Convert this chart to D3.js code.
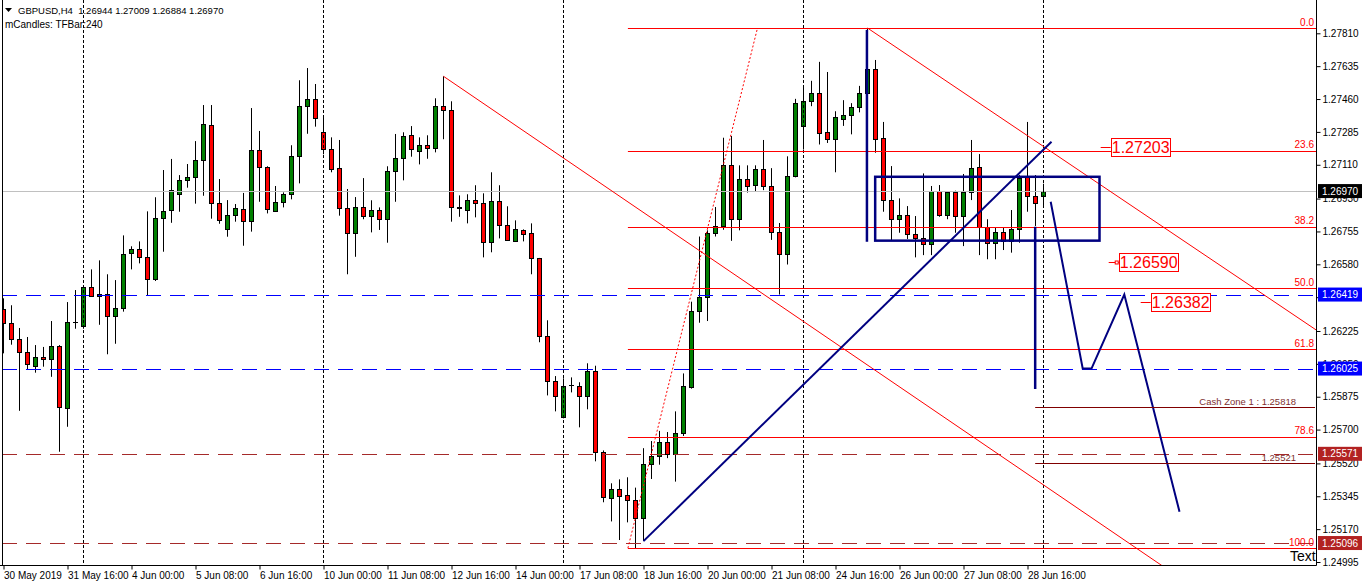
<!DOCTYPE html>
<html><head><meta charset="utf-8">
<script src="https://cdn.jsdelivr.net/npm/d3@7"></script>
<style>
body{margin:0;background:#fff;}
svg{display:block;font-family:"Liberation Sans",Arial,sans-serif;}
</style>
</head><body>
<svg id="c" width="1362" height="585"></svg>
<script>
// ---------------- DATA ----------------
const symbol = "GBPUSD,H4";
const indicatorText = "mCandles: TFBar:240";
const opens = [1.26340,1.26266,1.26181,1.26111,1.26037,1.26085,1.26074,1.26143,1.25813,1.26273,
1.26253,1.26461,1.26410,1.26420,1.26303,1.26346,1.26638,1.26660,1.26617,1.26500,
1.26825,1.26867,1.26953,1.27027,1.27043,1.27134,1.27320,1.26905,1.26766,1.26841,
1.26873,1.26809,1.27187,1.27096,1.26862,1.26910,1.26953,1.27155,1.27421,1.27459,
1.27283,1.27192,1.27091,1.26878,1.26745,1.26883,1.26836,1.26867,1.26820,1.27075,
1.27144,1.27267,1.27182,1.27214,1.27198,1.27421,1.27400,1.26883,1.26867,1.26921,
1.26905,1.26697,1.26915,1.26788,1.26702,1.26761,1.26745,1.26612,1.26197,1.25957,
1.25765,1.25936,1.25930,1.25877,1.26010,1.25579,1.25334,1.25386,1.25350,1.25323,
1.25227,1.25517,1.25558,1.25634,1.25570,1.25684,1.25927,1.26332,1.26404,1.26747,
1.26782,1.27107,1.26822,1.27034,1.27004,1.27087,1.26998,1.26750,1.26633,1.27052,
1.27317,1.27452,1.27492,1.27283,1.27245,1.27355,1.27373,1.27416,1.27490,1.27620,
1.27251,1.26921,1.26820,1.26841,1.26740,1.26722,1.26688,1.26972,1.26841,1.26963,
1.26837,1.26963,1.27096,1.26777,1.26695,1.26750,1.26704,1.26766,1.27043,1.26944,
1.26944];
const highs = [1.26399,1.26362,1.26241,1.26193,1.26150,1.26140,1.26278,1.26150,1.26379,1.26443,
1.26470,1.26553,1.26601,1.26527,1.26496,1.26734,1.26676,1.26702,1.26862,1.26937,
1.27082,1.27141,1.27055,1.27114,1.27236,1.27428,1.27428,1.27034,1.26922,1.26901,
1.26960,1.27412,1.27290,1.27102,1.26997,1.26963,1.27214,1.27560,1.27625,1.27540,
1.27368,1.27256,1.27242,1.26981,1.26938,1.27039,1.26921,1.26883,1.27102,1.27274,
1.27283,1.27316,1.27256,1.27267,1.27464,1.27581,1.27448,1.26947,1.26953,1.27001,
1.26958,1.27070,1.27001,1.26889,1.26814,1.26766,1.26798,1.26614,1.26282,1.25985,
1.25973,1.25978,1.25952,1.26053,1.26040,1.25589,1.25414,1.25435,1.25446,1.25391,
1.25601,1.25639,1.25693,1.25687,1.25797,1.25999,1.26381,1.26728,1.26761,1.26885,
1.27254,1.27263,1.27107,1.27107,1.27107,1.27242,1.27092,1.26800,1.27155,1.27461,
1.27530,1.27557,1.27658,1.27604,1.27395,1.27454,1.27438,1.27530,1.27838,1.27668,
1.27338,1.27103,1.26931,1.26890,1.26837,1.27064,1.26997,1.27002,1.26967,1.26972,
1.27061,1.27242,1.27167,1.26820,1.26777,1.26777,1.26869,1.27055,1.27338,1.27055,
1.27009];
const lows = [1.26106,1.26152,1.25800,1.26021,1.26003,1.26035,1.25981,1.25582,1.25715,1.26237,
1.26237,1.26406,1.26258,1.26101,1.26157,1.26328,1.26553,1.26585,1.26415,1.26491,
1.26647,1.26801,1.26860,1.26988,1.26903,1.26945,1.26823,1.26796,1.26727,1.26807,
1.26679,1.26754,1.26913,1.26851,1.26860,1.26883,1.26926,1.27011,1.27275,1.27313,
1.27166,1.27070,1.26839,1.26527,1.26620,1.26820,1.26750,1.26763,1.26695,1.26913,
1.27027,1.27153,1.27112,1.27142,1.27176,1.27246,1.26807,1.26833,1.26798,1.26830,
1.26617,1.26644,1.26718,1.26705,1.26700,1.26702,1.26527,1.26165,1.25882,1.25797,
1.25760,1.25898,1.25712,1.25808,1.25531,1.25313,1.25211,1.25112,1.25206,1.25069,
1.25106,1.25437,1.25513,1.25548,1.25423,1.25666,1.25918,1.26269,1.26278,1.26728,
1.26764,1.26705,1.26761,1.26962,1.26968,1.26975,1.26710,1.26419,1.26579,1.27043,
1.27191,1.27422,1.27218,1.27226,1.27070,1.27317,1.27272,1.27389,1.27480,1.27174,
1.26860,1.26709,1.26748,1.26715,1.26617,1.26629,1.26629,1.26833,1.26820,1.26748,
1.26677,1.26922,1.26629,1.26607,1.26607,1.26656,1.26642,1.26695,1.26860,1.26784,
1.26884];
const closes = [1.26266,1.26181,1.26111,1.26049,1.26085,1.26074,1.26143,1.25818,1.26274,1.26275,
1.26461,1.26410,1.26420,1.26303,1.26346,1.26633,1.26660,1.26617,1.26500,1.26825,
1.26862,1.26974,1.27027,1.27045,1.27134,1.27325,1.26905,1.26814,1.26841,1.26878,
1.26809,1.27187,1.27096,1.26873,1.26910,1.26953,1.27155,1.27421,1.27459,1.27357,
1.27192,1.27086,1.26878,1.26745,1.26883,1.26837,1.26867,1.26820,1.27075,1.27144,
1.27262,1.27192,1.27214,1.27198,1.27421,1.27400,1.26883,1.26881,1.26921,1.26905,
1.26697,1.26915,1.26788,1.26708,1.26766,1.26740,1.26612,1.26197,1.25957,1.25877,
1.25930,1.25938,1.25877,1.26010,1.25579,1.25339,1.25382,1.25349,1.25323,1.25227,
1.25519,1.25558,1.25634,1.25570,1.25684,1.25930,1.26329,1.26404,1.26747,1.26782,
1.27107,1.26822,1.27034,1.26995,1.27087,1.26998,1.26750,1.26633,1.27052,1.27438,
1.27452,1.27492,1.27277,1.27245,1.27362,1.27373,1.27416,1.27492,1.27620,1.27246,
1.26921,1.26820,1.26841,1.26740,1.26722,1.26688,1.26972,1.26841,1.26963,1.26837,
1.26963,1.27091,1.26777,1.26695,1.26750,1.26704,1.26766,1.27038,1.26944,1.26905,
1.26970];

const priceTicks = [1.27810,1.27635,1.27460,1.27285,1.27110,1.26930,1.26755,1.26580,1.26405,1.26225,1.26050,1.25875,1.25700,1.25520,1.25345,1.25170,1.24995];
const timeTickBars = [0,8,16,24,32,40,48,56,64,72,80,88,96,104,112,120,128];
const timeLabels = ["30 May 2019","31 May 16:00","4 Jun 00:00","5 Jun 08:00","6 Jun 16:00","10 Jun 00:00","11 Jun 08:00","12 Jun 16:00","14 Jun 00:00","17 Jun 08:00","18 Jun 16:00","20 Jun 00:00","21 Jun 08:00","24 Jun 16:00","26 Jun 00:00","27 Jun 08:00","28 Jun 16:00"];
const separatorBars = [10,40,70,100,130];

const blueLevels = [1.26419,1.26025];
const brownLevels = [1.25571,1.25096];

const fibLevels = [0,23.6,38.2,50,61.8,78.6,100];
const fibHigh = 1.27838, fibLow = 1.25069, fibStartBar = 78.05, fibHighBar = 94.25;

const redTrend1 = [[55,1.27581],[143.8,1.25005]];
const redTrend2 = [[108,1.27838],[164.1,1.26230]];
const navyTrend = [[80,1.25106],[131,1.27233]];
const navyRectBars = [108.96,137.0];
const navyRectPrices = [1.27046,1.26706];
const navyVertical1 = [[107.93,1.27828],[107.93,1.26700]];
const navyVertical2 = [[128.96,1.26780],[128.96,1.25916]];
const zigzag = [[130.9,1.26913],[134.9,1.26025],[136.0,1.26025],[140.1,1.26419],[147.0,1.25263]];

const labelPrices = [1.27203,1.26590,1.26382];
const labelBars = [138.4,139.4,143.4];

const cashPrices = [1.25818,1.25521];
const cashTexts = ["Cash Zone 1 : 1.25818","1.25521"];
const cashStartBar = 128.96;

// ---------------- CHART ----------------
const W=1362,H=585, plotL=2, plotR=1316, plotT=0, plotB=565;
const svg=d3.select("#c");
const x=d3.scaleLinear().domain([0,130]).range([3.5,1043.5]);
const y=d3.scaleLinear().domain([1.24995,1.27810]).range([562,33.3]);
const lastIdx = closes.length-1;

svg.append("rect").attr("width",W).attr("height",H).attr("fill","#fff");
svg.append("defs").append("clipPath").attr("id","plot").append("rect")
  .attr("x",plotL).attr("y",plotT).attr("width",plotR-plotL).attr("height",plotB-plotT);
const g=svg.append("g").attr("clip-path","url(#plot)");
const px=v=>Math.round(v)+0.5;

// header
svg.append("path").attr("d","M5,8L12,8L8.5,12Z").attr("fill","#000");
svg.append("text").attr("x",18).attr("y",14).attr("font-size",9.5).attr("fill","#000")
  .style("white-space","pre")
  .text(symbol+"  "+[opens[lastIdx],highs[lastIdx],lows[lastIdx],closes[lastIdx]].map(d3.format(".5f")).join(" "));
svg.append("text").attr("x",5).attr("y",28).attr("font-size",10).attr("fill","#000").text(indicatorText);

// candles
const candles=d3.range(closes.length).map(i=>({i,o:opens[i],h:highs[i],l:lows[i],c:closes[i]}));
g.selectAll("line.wick").data(candles).join("line").attr("class","wick")
  .attr("x1",d=>x(d.i)).attr("x2",d=>x(d.i))
  .attr("y1",d=>y(d.h)).attr("y2",d=>y(d.l)).attr("stroke","#000").attr("stroke-width",1);
g.selectAll("rect.body").data(candles).join("rect").attr("class","body")
  .attr("x",d=>x(d.i)-2).attr("width",4)
  .attr("y",d=>px(y(Math.max(d.o,d.c))))
  .attr("height",d=>Math.max(0.01,px(y(Math.min(d.o,d.c)))-px(y(Math.max(d.o,d.c)))))
  .attr("fill",d=>d.c>=d.o?"#008000":"#ff0000").attr("stroke","#000").attr("stroke-width",1);

// current price line
g.append("line").attr("x1",plotL).attr("x2",plotR).attr("y1",px(y(closes[lastIdx]))).attr("y2",px(y(closes[lastIdx])))
  .attr("stroke","#c0c0c0").attr("stroke-width",1);

// separators
g.selectAll("line.sep").data(separatorBars).join("line").attr("class","sep")
  .attr("x1",d=>x(d)).attr("x2",d=>x(d)).attr("y1",0).attr("y2",plotB)
  .attr("stroke","#000").attr("stroke-width",1).attr("stroke-dasharray","3,2");

// horizontal dashed levels
g.selectAll("line.blue").data(blueLevels).join("line").attr("class","blue")
  .attr("x1",plotL).attr("x2",plotR).attr("y1",d=>px(y(d))).attr("y2",d=>px(y(d)))
  .attr("stroke","#0000ff").attr("stroke-width",1).attr("stroke-dasharray","15,9");
g.selectAll("line.brown").data(brownLevels).join("line").attr("class","brown")
  .attr("x1",plotL).attr("x2",plotR).attr("y1",d=>px(y(d))).attr("y2",d=>px(y(d)))
  .attr("stroke","#a52a2a").attr("stroke-width",1).attr("stroke-dasharray","15,9");

// fibonacci
const fibPrice=l=>fibHigh-(fibHigh-fibLow)*l/100;
g.selectAll("line.fib").data(fibLevels).join("line").attr("class","fib")
  .attr("x1",x(fibStartBar)).attr("x2",plotR).attr("y1",d=>px(y(fibPrice(d)))).attr("y2",d=>px(y(fibPrice(d))))
  .attr("stroke","#ff0000").attr("stroke-width",1);
g.selectAll("text.fib").data(fibLevels).join("text").attr("class","fib")
  .attr("x",plotR-2).attr("y",d=>y(fibPrice(d))-2.5).attr("text-anchor","end")
  .attr("font-size",10).attr("fill","#ff0000").text(d=>d3.format(".1f")(d));
g.append("line").attr("x1",x(fibStartBar)).attr("y1",y(fibLow)).attr("x2",x(fibHighBar)).attr("y2",y(fibHigh))
  .attr("stroke","#ff0000").attr("stroke-width",1).attr("stroke-dasharray","2,2");

// red trend rays
function ray(p){const s=(p[1][1]-p[0][1])/(p[1][0]-p[0][0]);const e=260;return [p[0],[e,p[0][1]+s*(e-p[0][0])]];}
const lineGen=d3.line().x(d=>x(d[0])).y(d=>y(d[1]));
[redTrend1,redTrend2].forEach(t=>{
  g.append("path").attr("d",lineGen(ray(t))).attr("fill","none").attr("stroke","#ff0000").attr("stroke-width",1);
});

// navy objects
g.append("path").attr("d",lineGen(navyTrend)).attr("fill","none").attr("stroke","#000080").attr("stroke-width",2);
g.append("rect").attr("x",x(navyRectBars[0])).attr("y",y(navyRectPrices[0]))
  .attr("width",x(navyRectBars[1])-x(navyRectBars[0])).attr("height",y(navyRectPrices[1])-y(navyRectPrices[0]))
  .attr("fill","none").attr("stroke","#000080").attr("stroke-width",2.5);
[navyVertical1,navyVertical2].forEach(t=>{
  g.append("path").attr("d",lineGen(t)).attr("fill","none").attr("stroke","#000080").attr("stroke-width",2.5);
});
g.append("path").attr("d",lineGen(zigzag)).attr("fill","none").attr("stroke","#000080").attr("stroke-width",2).attr("stroke-linejoin","miter");

// cash zone lines
cashPrices.forEach((p,k)=>{
  g.append("line").attr("x1",x(cashStartBar)).attr("x2",plotR-1).attr("y1",px(y(p))).attr("y2",px(y(p)))
    .attr("stroke","#800000").attr("stroke-width",1);
  g.append("text").attr("x",1296).attr("y",y(p)-2.5).attr("text-anchor","end")
    .attr("font-size",9.5).attr("fill","#803030").text(cashTexts[k]);
});

// price labels
labelPrices.forEach((p,k)=>{
  const bx=x(labelBars[k]), by=px(y(p));
  g.append("line").attr("x1",bx-10).attr("x2",bx).attr("y1",by).attr("y2",by).attr("stroke","#ff0000").attr("stroke-width",1);
  if(k===1) g.append("rect").attr("x",bx-3.5).attr("y",by-1.5).attr("width",3).attr("height",3).attr("fill","#fff").attr("stroke","#ff0000");
  g.append("rect").attr("x",Math.round(bx)+0.5).attr("y",by-9).attr("width",59).attr("height",18)
    .attr("fill","#fff").attr("stroke","#ff0000").attr("stroke-width",1);
  g.append("text").attr("x",bx+30).attr("y",by+5.8).attr("text-anchor","middle")
    .attr("font-size",16).attr("fill","#ff0000").text(d3.format(".5f")(p));
});

// "Text" label
g.append("text").attr("x",1290).attr("y",561).attr("font-size",14).attr("fill","#000").text("Text");

// borders
svg.append("line").attr("x1",2.5).attr("x2",2.5).attr("y1",0).attr("y2",plotB+0.5).attr("stroke","#000");
svg.append("line").attr("x1",plotR+0.5).attr("x2",plotR+0.5).attr("y1",0).attr("y2",plotB+0.5).attr("stroke","#000");
svg.append("line").attr("x1",0).attr("x2",plotR+0.5).attr("y1",plotB+0.5).attr("y2",plotB+0.5).attr("stroke","#000");

// right axis
const ya=svg.append("g").attr("transform",`translate(${plotR+0.5},0)`)
  .call(d3.axisRight(y).tickValues(priceTicks).tickSize(4).tickPadding(2).tickFormat(d3.format(".5f")));
ya.select(".domain").remove();
ya.selectAll("text").attr("font-size",10).attr("font-family","Liberation Sans, Arial, sans-serif").attr("fill","#000");
ya.selectAll(".tick line").attr("stroke","#000");

// bottom axis
const xa=svg.append("g").attr("transform",`translate(0,${plotB+0.5})`)
  .call(d3.axisBottom(x).tickValues(timeTickBars).tickSize(4).tickFormat((d,i)=>timeLabels[i]));
xa.select(".domain").remove();
xa.selectAll("text").attr("font-size",10).attr("font-family","Liberation Sans, Arial, sans-serif").attr("fill","#000")
  .attr("text-anchor","start").attr("x",0).attr("dy","0.6em").attr("y",7);
xa.selectAll(".tick line").attr("stroke","#000");

// coloured price tags on axis
const tags=[{p:closes[lastIdx],c:"#000000"}]
  .concat(blueLevels.map(p=>({p,c:"#0000ff"})))
  .concat(brownLevels.map(p=>({p,c:"#b22222"})));
tags.forEach(t=>{
  const cy=y(t.p);
  svg.append("rect").attr("x",plotR+2).attr("y",cy-7).attr("width",W-plotR-2).attr("height",14).attr("fill",t.c);
  svg.append("text").attr("x",plotR+6).attr("y",cy).attr("dy","0.35em").attr("font-size",10).attr("fill","#fff").text(d3.format(".5f")(t.p));
});
</script>
</body></html>
